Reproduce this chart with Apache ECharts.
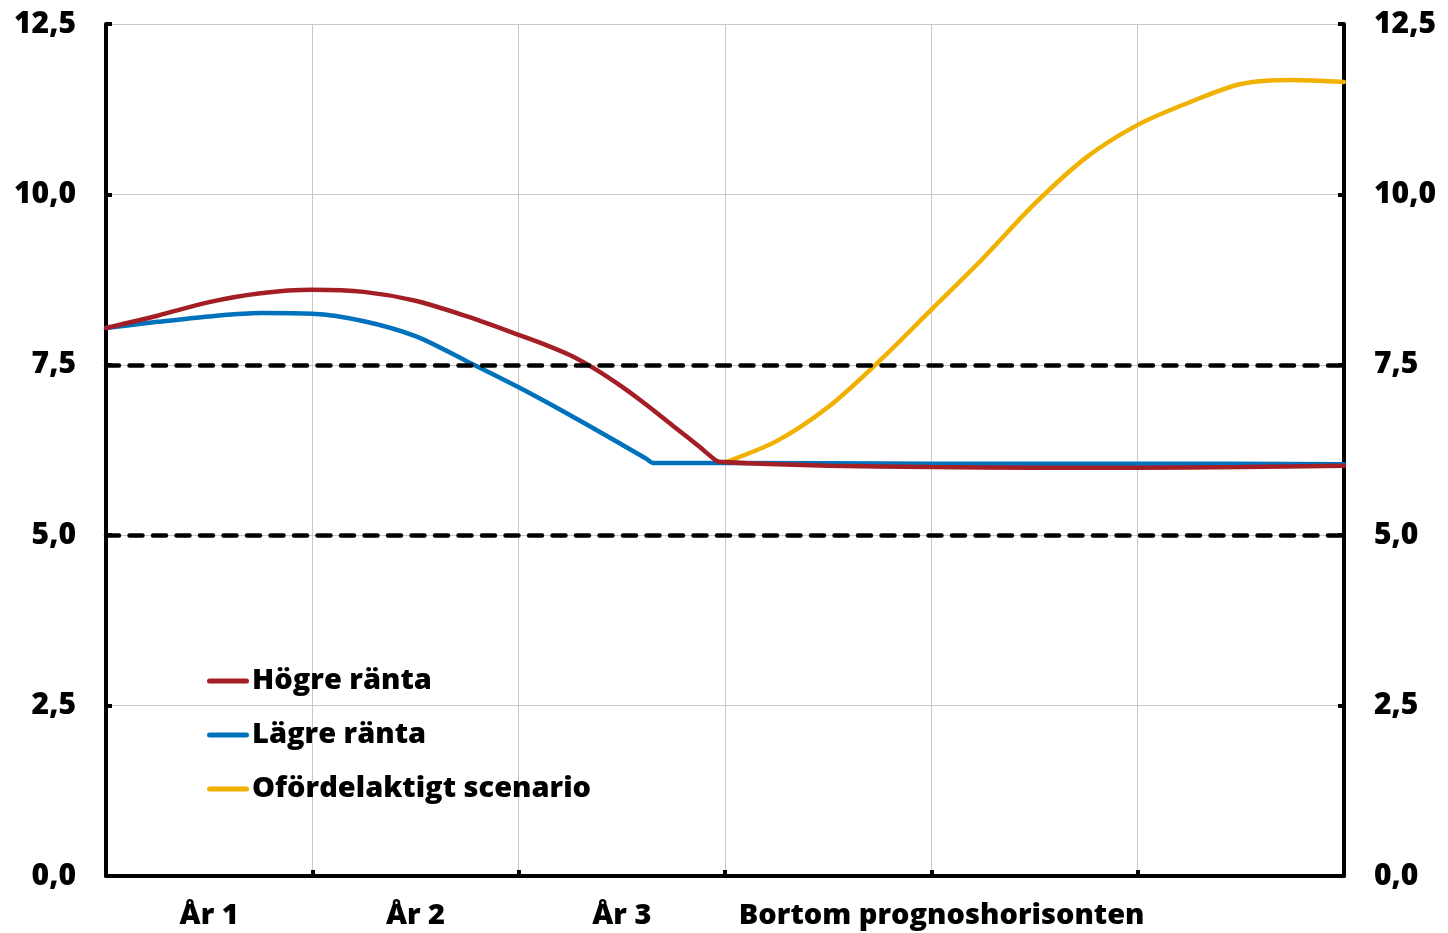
<!DOCTYPE html>
<html>
<head>
<meta charset="utf-8">
<script src="https://cdn.jsdelivr.net/npm/echarts@6/dist/echarts.min.js"></script>
<style>
html,body{margin:0;padding:0;background:#fff;}
#chart{width:1448px;height:933px;}
</style>
</head>
<body>
<div id="chart"></div>
<script>
// X values are in years from the start of the forecast (0..6)
const seriesNames = ['Högre ränta', 'Lägre ränta', 'Ofördelaktigt scenario'];
const xTickLabels = ['År 1', 'År 2', 'År 3', 'Bortom prognoshorisonten'];
const yTickLabels = ['0,0', '2,5', '5,0', '7,5', '10,0', '12,5'];
const thresholdLevels = [7.5, 5.0];

const hogreRanta = [
  [0, 8.04], [0.25, 8.22], [0.5, 8.42], [0.75, 8.55], [1.0, 8.60], [1.25, 8.57],
  [1.5, 8.44], [1.75, 8.21], [2.0, 7.94], [2.125, 7.80], [2.25, 7.64], [2.375, 7.43],
  [2.5, 7.18], [2.625, 6.90], [2.75, 6.60], [2.875, 6.30], [2.96, 6.09], [2.99, 6.075],
  [3.25, 6.04], [3.5, 6.02], [4.0, 6.00], [4.5, 5.99], [5.0, 5.99], [5.5, 6.00], [6.0, 6.02]
];
const lagreRanta = [
  [0, 8.04], [0.25, 8.13], [0.5, 8.21], [0.75, 8.26], [1.0, 8.25], [1.25, 8.14],
  [1.5, 7.92], [1.75, 7.55], [2.0, 7.17], [2.25, 6.76], [2.5, 6.33], [2.62, 6.12],
  [2.65, 6.06], [2.68, 6.06], [3.0, 6.06], [4.0, 6.05], [5.0, 6.05], [6.0, 6.04]
];
const ofordelaktigt = [
  [3.0, 6.07], [3.25, 6.38], [3.5, 6.88], [3.75, 7.56], [4.0, 8.31], [4.25, 9.06],
  [4.5, 9.86], [4.75, 10.54], [5.0, 11.02], [5.25, 11.35], [5.5, 11.62], [5.75, 11.68],
  [6.0, 11.65]
];

const FONT = '"Open Sans", "Noto Sans", sans-serif';
const FS = 29;
const FW = 800;
const chart = echarts.init(document.getElementById('chart'), null, {renderer: 'canvas'});

const yAxisCommon = {
  type: 'value', min: 0, max: 12.5, interval: 2.5,
  axisLine: {show: true, lineStyle: {color: '#000', width: 4}},
  axisTick: {show: true, inside: true, length: 6, lineStyle: {color: '#000', width: 4}},
  splitLine: {show: true, lineStyle: {color: '#c8c8c8', width: 1}},
  axisLabel: {
    color: '#000', fontFamily: FONT, fontWeight: FW, fontSize: 30, margin: 30,
    formatter: (v) => yTickLabels[Math.round(v / 2.5)]
  }
};

const labelSlots = [0.5, 1.5, 2.5, 4.05];

const option = {
  animation: false,
  backgroundColor: '#fff',
  grid: {left: 106, right: 104, top: 24, bottom: 57, containLabel: false},
  legend: {
    orient: 'vertical', left: 202, top: 659,
    data: seriesNames,
    icon: 'path://M2.5,0 H39.5 A2.5,2.5 0 0 1 39.5,5 H2.5 A2.5,2.5 0 0 1 2.5,0 Z',
    itemWidth: 42, itemHeight: 5, itemGap: 20,
    textStyle: {color: '#000', fontFamily: FONT, fontWeight: FW, fontSize: FS, lineHeight: 34, padding: [0, 0, 0, -2]}
  },
  xAxis: {
    type: 'value', min: 0, max: 6, interval: 1,
    axisLine: {show: true, onZero: false, lineStyle: {color: '#000', width: 4}},
    axisTick: {show: true, inside: true, length: 6, lineStyle: {color: '#000', width: 4}},
    splitLine: {show: true, lineStyle: {color: '#c8c8c8', width: 1}},
    axisLabel: {
      color: '#000', fontFamily: FONT, fontWeight: FW, fontSize: FS, margin: 25,
      customValues: labelSlots,
      formatter: (v) => xTickLabels[labelSlots.indexOf(v)] || ''
    }
  },
  yAxis: [
    Object.assign({}, yAxisCommon, {position: 'left'}),
    Object.assign({}, yAxisCommon, {position: 'right', splitLine: {show: false}})
  ],
  series: [
    {
      name: '__thresholds', type: 'line', data: [], silent: true, z: 1,
      markLine: {
        silent: true, symbol: ['none', 'none'], label: {show: false},
        lineStyle: {color: '#000', width: 4.5, type: [13, 10.5], cap: 'round'},
        data: thresholdLevels.map(v => ({yAxis: v}))
      }
    },
    {
      name: seriesNames[2], type: 'line', data: ofordelaktigt, z: 2,
      showSymbol: false, symbol: 'none', smooth: 0.3,
      lineStyle: {color: '#F0B100', width: 4.5, cap: 'round'}, itemStyle: {color: '#F0B100'}
    },
    {
      name: seriesNames[1], type: 'line', data: lagreRanta, z: 3,
      showSymbol: false, symbol: 'none', smooth: 0.3,
      lineStyle: {color: '#0071BC', width: 4.5, cap: 'round'}, itemStyle: {color: '#0071BC'}
    },
    {
      name: seriesNames[0], type: 'line', data: hogreRanta, z: 4,
      showSymbol: false, symbol: 'none', smooth: 0.3,
      lineStyle: {color: '#A31F25', width: 4.5, cap: 'round'}, itemStyle: {color: '#A31F25'}
    }
  ]
};
chart.setOption(option);
</script>
</body>
</html>
